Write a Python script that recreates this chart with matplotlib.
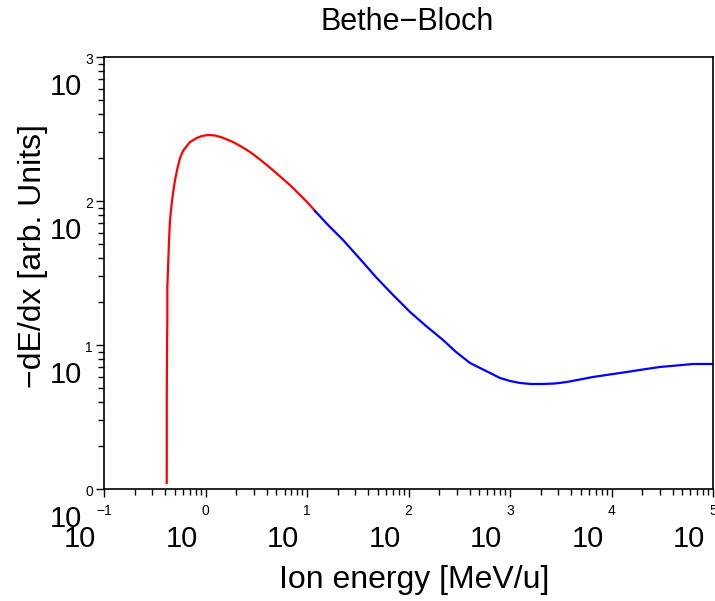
import matplotlib
matplotlib.use('Agg')
import matplotlib.pyplot as plt
from matplotlib.ticker import FixedLocator

plt.rcParams['font.family'] = ['Liberation Sans', 'DejaVu Sans']

# Curve: energy [MeV/u] and -dE/dx [arb. units]
energy_red = [0.4147, 0.415, 0.415, 0.4176, 0.4204, 0.4204, 0.4300, 0.4369,
              0.4469, 0.4624, 0.4784, 0.5005, 0.5298, 0.5608, 0.6003, 0.6529,
              0.7036, 0.819, 0.9237, 1.058, 1.240, 1.454, 1.866, 2.289, 2.744,
              3.290, 4.009, 4.838, 5.801, 7.115, 8.531, 10.23, 11.99]
dedx_red = [1.101, 2.189, 4.151, 9.685, 14.92, 25.27, 38.94, 53.61,
            73.81, 93.81, 113.6, 139.9, 169.5, 198.9, 222.5, 240.9,
            256.8, 273.8, 282.7, 287.3, 285.0, 276.1, 256.8, 237.1, 218.9,
            198.9, 177.8, 159.0, 142.2, 125.1, 110.1, 96.85, 85.21]

energy_blue = [11.99, 16.10, 22.63, 33.29, 48.62, 70.38, 103.5, 148.8, 218.8,
               293.8, 403.6, 506.2, 635.3, 797.0, 1000, 1255, 1610, 2114, 2775,
               3643, 4894, 6572, 9665, 14210, 20430, 30050, 44190, 63530, 100000]
dedx_blue = [85.21, 68.13, 53.61, 39.56, 29.20, 22.25, 16.95, 13.55, 10.83,
             8.941, 7.499, 6.922, 6.391, 5.899, 5.623, 5.446, 5.359, 5.359, 5.402,
             5.534, 5.760, 5.995, 6.240, 6.494, 6.760, 7.035, 7.205, 7.380, 7.380]

x_decades = [-1, 0, 1, 2, 3, 4, 5]
y_decades = [0, 1, 2, 3]

fig = plt.figure(figsize=(7.15, 6.01), dpi=100)
ax = fig.add_axes([0.1455, 0.1864, 0.8517, 0.7188])

ax.plot(energy_red, dedx_red, color='#ff0000', lw=1.6)
ax.plot(energy_blue, dedx_blue, color='#0000ff', lw=1.6)

ax.set_xscale('log')
ax.set_yscale('log')
ax.set_xlim(0.1, 1e5)
ax.set_ylim(1, 1000)

for s in ax.spines.values():
    s.set_linewidth(1.2)

# ROOT-like decade ticks with minor ticks at 2..9
x_minor = [m * 10.0 ** e for e in x_decades[:-1] for m in range(2, 10)]
y_minor = [m * 10.0 ** e for e in y_decades[:-1] for m in range(2, 10)]
ax.xaxis.set_major_locator(FixedLocator([10.0 ** e for e in x_decades]))
ax.yaxis.set_major_locator(FixedLocator([10.0 ** e for e in y_decades]))
ax.xaxis.set_minor_locator(FixedLocator(x_minor))
ax.yaxis.set_minor_locator(FixedLocator(y_minor))
ax.tick_params(which='both', direction='out', width=1.0,
               labelleft=False, labelbottom=False)
ax.tick_params(which='major', length=5.8)
ax.tick_params(which='minor', length=4.0)

px = 0.72  # points per pixel at 100 dpi

def exp_label(e):
    return str(e).replace('-', '\u2212')

# x tick labels: large "10" with small exponent
for e in x_decades:
    ax.annotate(exp_label(e), xy=(10.0 ** e, 0), xycoords=('data', 'axes fraction'),
                xytext=(0, -26 * px), textcoords='offset points',
                ha='center', va='baseline', fontsize=10, annotation_clip=False)
    ax.annotate('10', xy=(10.0 ** e, 0), xycoords=('data', 'axes fraction'),
                xytext=(-24 * px, -58 * px), textcoords='offset points',
                ha='center', va='baseline', fontsize=21, annotation_clip=False)

# y tick labels
for e in y_decades:
    ax.annotate(exp_label(e), xy=(0, 10.0 ** e), xycoords=('axes fraction', 'data'),
                xytext=(-11 * px, -7 * px), textcoords='offset points',
                ha='right', va='baseline', fontsize=10, annotation_clip=False)
    ax.annotate('10', xy=(0, 10.0 ** e), xycoords=('axes fraction', 'data'),
                xytext=(-38 * px, -38 * px), textcoords='offset points',
                ha='center', va='baseline', fontsize=21, annotation_clip=False)

fig.text(407 / 715, 1 - 22 / 601, 'Bethe\u2212Bloch', ha='center', va='center', fontsize=22)
fig.text(414 / 715, 1 - 588 / 601, 'Ion energy [MeV/u]', ha='center', va='baseline', fontsize=23)
fig.text(33 / 715, 1 - 256 / 601, '\u2212dE/dx [arb. Units]', ha='center', va='center',
         rotation=90, fontsize=23)

fig.savefig('out.png', dpi=100)
